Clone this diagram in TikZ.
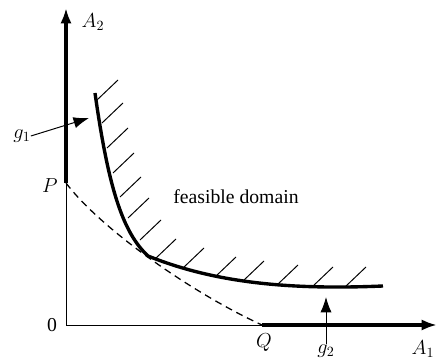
\documentclass[tikz,border=0pt]{standalone}
\usepackage{amsmath}
\usepackage{fontspec}
\setmainfont{Liberation Serif}
\usetikzlibrary{arrows.meta}

\begin{document}
\begin{tikzpicture}[x=0.025cm,y=-0.025cm,
  thinline/.style={line width=0.7pt},
  thickline/.style={line width=2.4pt},
  bigarrow/.style={-{Latex[length=11pt,width=8pt]}},
  hatch/.style={line width=0.7pt},
  lbl/.style={font=\fontsize{14}{16}\selectfont, inner sep=0pt}]
\useasboundingbox (0,0) rectangle (437,359);

\coordinate (O) at (66,325);
\coordinate (P) at (66,183);
\coordinate (Q) at (262,325);
\coordinate (ytop) at (66,8);
\coordinate (xend) at (437,325);

% axes
\draw[thinline] (P)--(O)--(Q);
\draw[thickline, bigarrow] (P)--(ytop);
\draw[thickline, bigarrow] (Q)--(xend);

% boundary of the domain
\coordinate (c0) at (95,93);
\coordinate (kink) at (148,256);
\coordinate (c1) at (383,286);
\draw[thickline, line join=round] (c0) .. controls (108,185) and (122,232) .. (kink)
  .. controls (215,283) and (290,290) .. (c1);
\draw[line width=0.9pt, dash pattern=on 5pt off 3.5pt] (P) .. controls (100,228) and (190,292) .. (Q);

% hatching
\foreach \x/\y in {97/100, 102/123, 107/148, 113/173, 120/197, 128/218, 140/240, 155/259,
  183/268, 215/277, 243/281, 277/285, 312/287, 345/287}
  \draw[hatch] (\x,\y)--++(21,-20);

\node[lbl] (A2) at (93,22) {$A_2$};
\node[lbl] (A1) at (423,349) {$A_1$};
\node[lbl] (Plbl) at (50,186) {$P$};
\node[lbl] (Qlbl) at (264,343) {$Q$};
\node[lbl] (zero) at (52,325) {0};
\node[lbl] (feas) at (236,197) {feasible domain};

\node[lbl] (g1) at (22,136) {$g_1$};
\coordinate (g1tip) at (89,118);
\draw[thinline, bigarrow] (g1.east)--(g1tip);

\node[lbl] (g2) at (326,351) {$g_2$};
\coordinate (g2tip) at (326,297);
\draw[thinline, bigarrow] (g2.north)--(g2tip);
\end{tikzpicture}
\end{document}
